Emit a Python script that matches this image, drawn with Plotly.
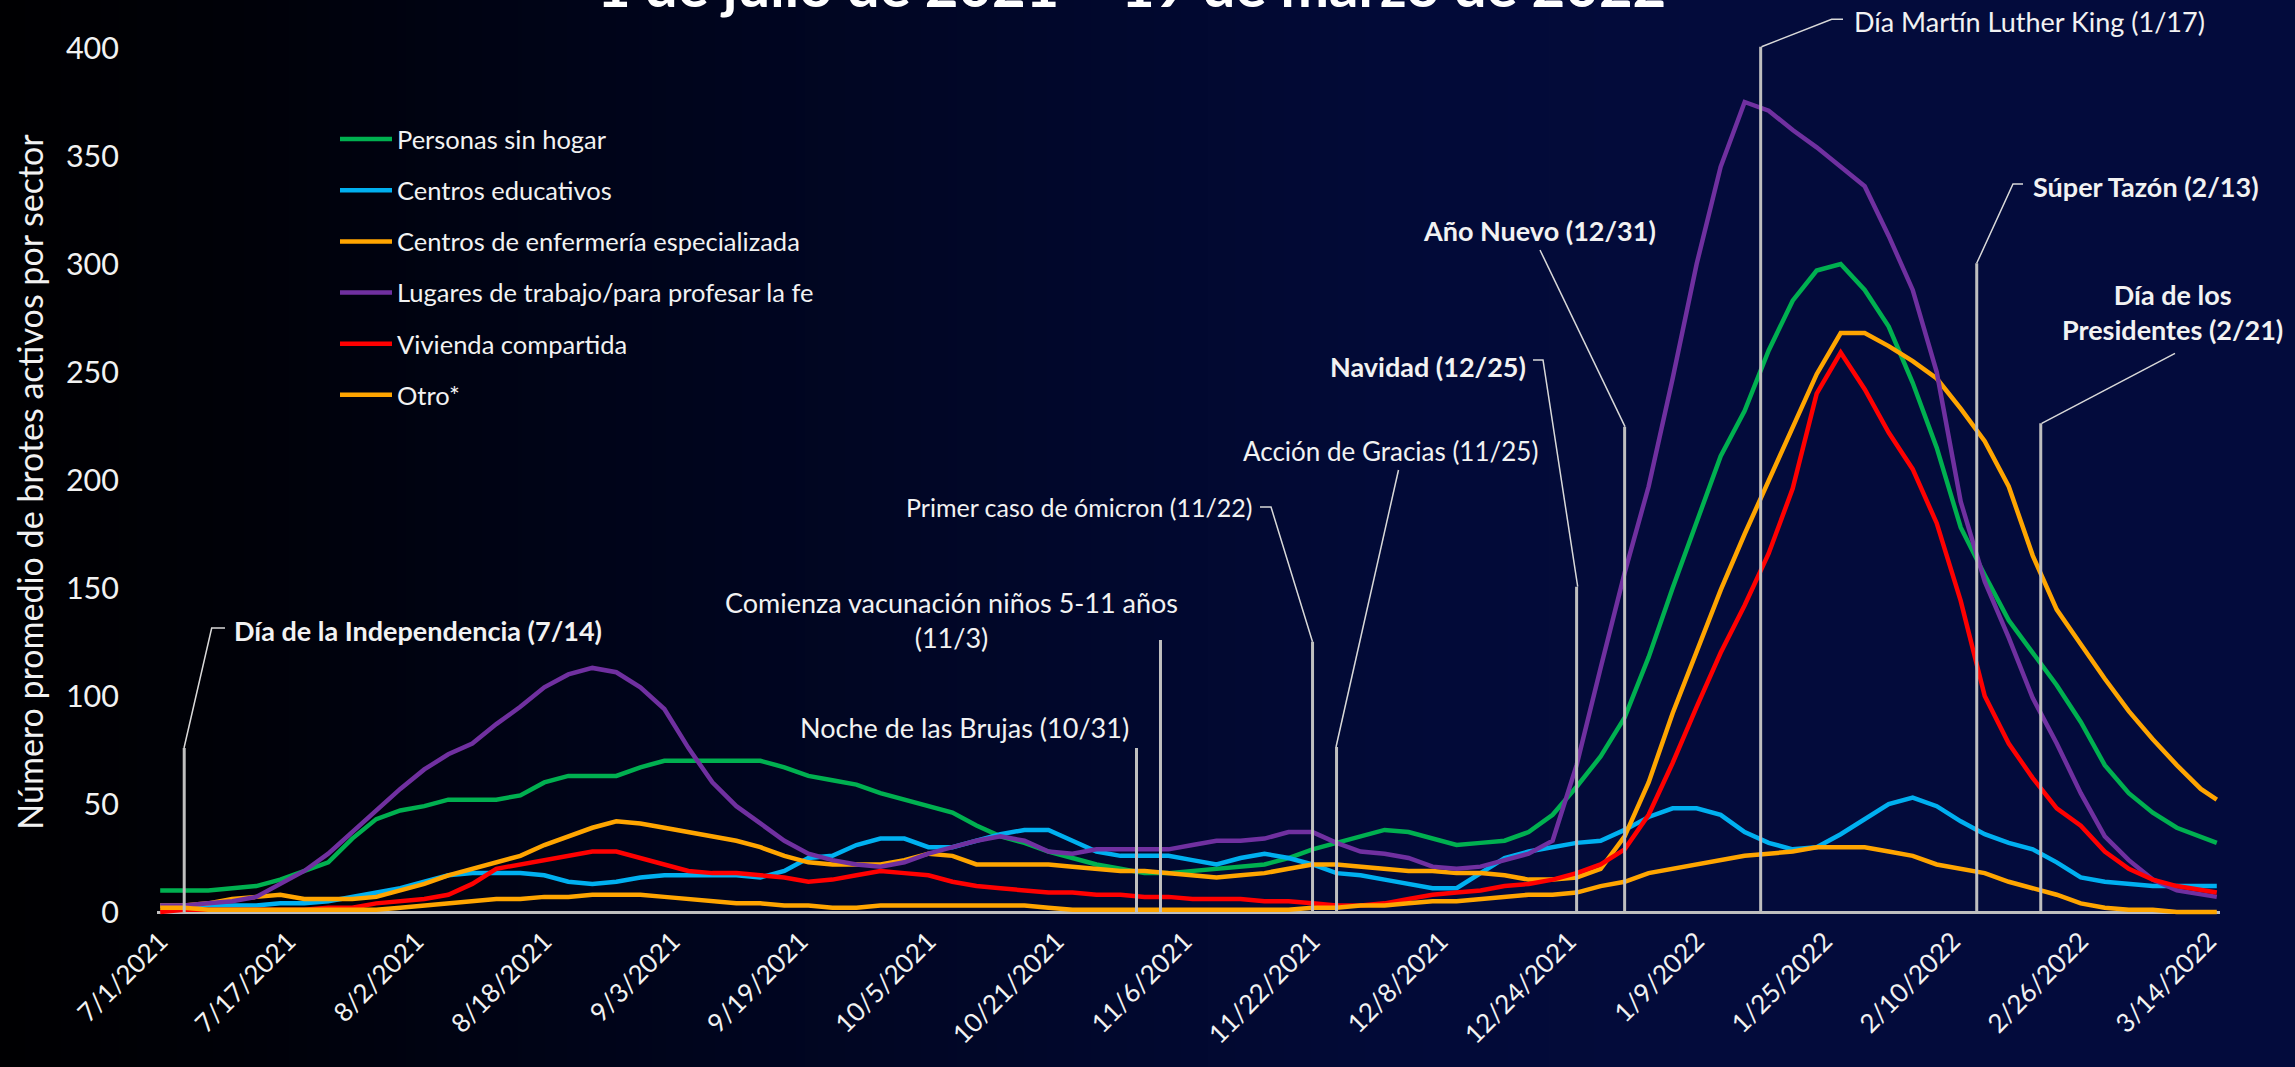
import base64
import struct
import zlib
import plotly.graph_objects as go

# ---------------- data ----------------
dates = ["2021-07-01","2021-07-04","2021-07-07","2021-07-10","2021-07-13","2021-07-16","2021-07-19","2021-07-22","2021-07-25","2021-07-28","2021-07-31",
         "2021-08-03","2021-08-06","2021-08-09","2021-08-12","2021-08-15","2021-08-18","2021-08-21","2021-08-24","2021-08-27","2021-08-30",
         "2021-09-02","2021-09-05","2021-09-08","2021-09-11","2021-09-14","2021-09-17","2021-09-20","2021-09-23","2021-09-26","2021-09-29",
         "2021-10-02","2021-10-05","2021-10-08","2021-10-11","2021-10-14","2021-10-17","2021-10-20","2021-10-23","2021-10-26","2021-10-29",
         "2021-11-01","2021-11-04","2021-11-07","2021-11-10","2021-11-13","2021-11-16","2021-11-19","2021-11-22","2021-11-25","2021-11-28",
         "2021-12-01","2021-12-04","2021-12-07","2021-12-10","2021-12-13","2021-12-16","2021-12-19","2021-12-22","2021-12-25","2021-12-28","2021-12-31",
         "2022-01-03","2022-01-06","2022-01-09","2022-01-12","2022-01-15","2022-01-18","2022-01-21","2022-01-24","2022-01-27","2022-01-30",
         "2022-02-02","2022-02-05","2022-02-08","2022-02-11","2022-02-14","2022-02-17","2022-02-20","2022-02-23","2022-02-26",
         "2022-03-01","2022-03-04","2022-03-07","2022-03-10","2022-03-13","2022-03-15"]

personas_sin_hogar = [10,10,10,11,12,15,19,23,34,43,47,
                      49,52,52,52,54,60,63,63,63,67,
                      70,70,70,70,70,67,63,61,59,55,
                      52,49,46,40,35,32,28,25,22,20,
                      18,18,19,20,21,22,25,29,32,35,
                      38,37,34,31,32,33,37,45,58,72,90,
                      118,150,180,211,232,260,283,297,300,288,
                      271,245,215,178,156,135,120,105,88,
                      68,55,46,39,35,32]

centros_educativos = [3,3,3,3,3,4,4,5,7,9,11,
                      14,17,18,18,18,17,14,13,14,16,
                      17,17,17,17,16,19,25,26,31,34,
                      34,30,30,33,36,38,38,33,28,26,
                      26,26,24,22,25,27,25,22,18,17,
                      15,13,11,11,18,25,28,30,32,33,38,
                      44,48,48,45,37,32,29,30,36,43,
                      50,53,49,42,36,32,29,23,16,
                      14,13,12,12,12,12]

enfermeria = [3,3,4,6,7,8,6,6,6,7,10,
              13,17,20,23,26,31,35,39,42,41,
              39,37,35,33,30,26,23,22,22,22,
              24,27,26,22,22,22,22,21,20,19,
              19,18,17,16,17,18,20,22,22,21,
              20,19,19,18,18,17,15,15,16,20,35,
              60,92,120,149,175,200,224,249,268,268,
              262,255,247,233,218,197,165,140,124,
              108,93,80,68,57,52]

trabajo_fe = [3,3,4,5,7,13,19,27,37,47,57,
              66,73,78,87,95,104,110,113,111,104,
              94,76,60,49,41,33,27,24,22,21,
              23,27,30,33,35,33,28,27,29,29,
              29,29,31,33,33,34,37,37,32,28,
              27,25,21,20,21,24,27,33,68,113,157,
              197,247,300,345,375,371,362,354,345,336,
              313,288,250,190,153,127,99,78,55,
              35,24,15,10,8,7]

vivienda = [0,1,1,1,1,1,1,2,2,4,5,
            6,8,13,20,22,24,26,28,28,25,
            22,19,18,18,17,16,14,15,17,19,
            18,17,14,12,11,10,9,9,8,8,
            7,7,6,6,6,5,5,4,3,3,
            4,6,8,9,10,12,13,15,18,22,29,
            45,69,95,120,142,166,196,240,259,242,
            222,205,180,144,100,78,62,48,40,
            28,20,15,12,10,9]

otro = [2,2,1,1,1,1,1,1,1,1,2,
        3,4,5,6,6,7,7,8,8,8,
        7,6,5,4,4,3,3,2,2,3,
        3,3,3,3,3,3,2,1,1,1,
        1,1,1,1,1,1,1,2,2,3,
        3,4,5,5,6,7,8,8,9,12,14,
        18,20,22,24,26,27,28,30,30,30,
        28,26,22,20,18,14,11,8,4,
        2,1,1,0,0,0]

series_names = ["Personas sin hogar", "Centros educativos", "Centros de enfermería especializada",
                "Lugares de trabajo/para profesar la fe", "Vivienda compartida", "Otro*"]
series_values = [personas_sin_hogar, centros_educativos, enfermeria, trabajo_fe, vivienda, otro]
series_colors = ["#00B050", "#00B0F0", "#FFA500", "#7030A0", "#FF0000", "#FFA500"]

tick_vals = ["2021-07-01","2021-07-17","2021-08-02","2021-08-18","2021-09-03","2021-09-19","2021-10-05","2021-10-21",
             "2021-11-06","2021-11-22","2021-12-08","2021-12-24","2022-01-09","2022-01-25","2022-02-10","2022-02-26","2022-03-14"]
tick_text = ["7/1/2021","7/17/2021","8/2/2021","8/18/2021","9/3/2021","9/19/2021","10/5/2021","10/21/2021",
             "11/6/2021","11/22/2021","12/8/2021","12/24/2021","1/9/2022","1/25/2022","2/10/2022","2/26/2022","3/14/2022"]

event_dates = ["2021-07-04","2021-10-31","2021-11-03","2021-11-22","2021-11-25",
               "2021-12-25","2021-12-31","2022-01-17","2022-02-13","2022-02-21"]
event_labels = ["<b>Día de la Independencia (7/14)</b>",
                "Noche de las Brujas (10/31)",
                "Comienza vacunación niños 5-11 años<br>(11/3)",
                "Primer caso de ómicron (11/22)",
                "Acción de Gracias (11/25)",
                "<b>Navidad (12/25)</b>",
                "<b>Año Nuevo (12/31)</b>",
                "Día Martín Luther King (1/17)",
                "<b>Súper Tazón (2/13)</b>",
                "<b>Día de los<br>Presidentes (2/21)</b>"]

title_text = "<b>1 de julio de 2021 – 19 de marzo de 2022</b>"
y_title = "Número promedio de brotes activos por sector"

# ---------------- layout geometry (pixels) ----------------
W, H = 2295, 1067
ML, MR, MT, MB = 157, 75, 48, 151
PL, PR, PT, PB = ML, W - MR, MT, H - MB
ZERO_PX = 912
YMAX = 400
YMIN = -YMAX * (PB - ZERO_PX) / (ZERO_PX - PT)


def px(x):
    return (x - PL) / (PR - PL)


def py(y):
    return (PB - y) / (PB - PT)


FONT = "Lato, 'Open Sans', sans-serif"
TXT = "#F2F2F2"


def gradient_png(width, stops):
    row = bytearray([0])
    for i in range(width):
        t = i / (width - 1)
        for (p0, c0), (p1, c1) in zip(stops[:-1], stops[1:]):
            if p0 <= t <= p1:
                f = 0 if p1 == p0 else (t - p0) / (p1 - p0)
                row += bytes(int(round(a + (b - a) * f)) for a, b in zip(c0, c1))
                break

    def chunk(tag, data):
        return struct.pack(">I", len(data)) + tag + data + struct.pack(">I", zlib.crc32(tag + data) & 0xffffffff)

    png = (b"\x89PNG\r\n\x1a\n" + chunk(b"IHDR", struct.pack(">IIBBBBB", width, 1, 8, 2, 0, 0, 0))
           + chunk(b"IDAT", zlib.compress(bytes(row))) + chunk(b"IEND", b""))
    return "data:image/png;base64," + base64.b64encode(png).decode()


bg = gradient_png(512, [(0.0, (0, 0, 2)), (0.10, (0, 1, 8)), (0.25, (0, 4, 24)), (0.45, (1, 7, 42)),
                        (0.60, (2, 10, 55)), (0.75, (3, 11, 59)), (1.0, (3, 11, 60))])

fig = go.Figure()
for name, vals, col in zip(series_names, series_values, series_colors):
    fig.add_trace(go.Scatter(x=dates, y=vals, name=name, mode="lines",
                             line=dict(color=col, width=4.5), legendgroup=name))

# event markers: (vertical top px, connector path px, text x px, text y px, xanchor, font size)
event_style = [
    (748, [(184, 748), (211.7, 628), (225, 628)], 232, 630, "left", 27),
    (748, None, 964, 727, "center", 27),
    (640, None, 951, 620, "center", 27),
    (641.7, [(1260, 507), (1271, 507), (1312.5, 641.7)], 1254, 507, "right", 25),
    (747, [(1336, 747), (1398.5, 470)], 1540, 451, "right", 26),
    (586.7, [(1533, 360), (1543, 360), (1577.7, 586.7)], 1528, 366, "right", 27),
    (426.7, [(1540, 250), (1625, 426.7)], 1539, 230, "center", 27),
    (46.7, [(1843, 19.3), (1831.7, 19.3), (1761.5, 46.7)], 1852, 22, "left", 27),
    (263.3, [(2023, 184), (2013, 184), (1976.7, 263.3)], 2031, 186, "left", 27),
    (423.3, [(2175, 353.3), (2041.7, 423.3)], 2172, 312, "center", 27),
]

shapes = []
annotations = []
for d, lab, (vtop, path, tx, ty, xa, fs) in zip(event_dates, event_labels, event_style):
    shapes.append(dict(type="line", xref="x", yref="paper", x0=d, x1=d, y0=py(ZERO_PX), y1=py(vtop),
                       line=dict(color="#BFBFBF", width=3), layer="above"))
    if path:
        p = "M " + " L ".join(f"{px(a):.5f},{py(b):.5f}" for a, b in path)
        shapes.append(dict(type="path", xref="paper", yref="paper", path=p,
                           line=dict(color="#D9D9D9", width=1.5), layer="above"))
    annotations.append(dict(text=lab, xref="paper", yref="paper", x=px(tx), y=py(ty), xanchor=xa,
                            yanchor="middle", showarrow=False, align="center",
                            font=dict(family=FONT, size=fs, color=TXT)))

annotations.append(dict(text=title_text, xref="paper", yref="paper", x=px(1131), y=py(-16),
                        xanchor="center", yanchor="middle", showarrow=False,
                        font=dict(family=FONT, size=58, color="#FFFFFF")))

fig.update_layout(
    width=W, height=H,
    margin=dict(l=ML, r=MR, t=MT, b=MB, autoexpand=False),
    paper_bgcolor="#020830",
    plot_bgcolor="rgba(0,0,0,0)",
    font=dict(family=FONT, color=TXT),
    images=[dict(source=bg, xref="paper", yref="paper", x=-ML / (PR - PL), y=1 + MT / (PB - PT),
                 sizex=W / (PR - PL), sizey=H / (PB - PT), sizing="stretch", layer="below",
                 xanchor="left", yanchor="top")],
    xaxis=dict(type="date", range=["2021-06-30 14:24", "2022-03-15 09:36"], tickvals=tick_vals,
               ticktext=tick_text, tickangle=-45, showgrid=False, zeroline=False, showline=False,
               ticks="", tickfont=dict(family=FONT, size=26, color=TXT), ticklabelstandoff=4),
    yaxis=dict(range=[YMIN, YMAX], tickvals=[0, 50, 100, 150, 200, 250, 300, 350, 400], showgrid=False,
               zeroline=True, zerolinecolor="#BFBFBF", zerolinewidth=2.5, showline=False, ticks="",
               tickfont=dict(family=FONT, size=30.5, color=TXT), ticklabelstandoff=37,
               title=dict(text=y_title, font=dict(family=FONT, size=34, color=TXT), standoff=12)),
    legend=dict(x=px(335), y=py(116), xanchor="left", yanchor="top", bgcolor="rgba(0,0,0,0)",
                font=dict(family=FONT, size=25.5, color=TXT), tracegroupgap=15, itemwidth=52),
    shapes=shapes,
    annotations=annotations,
    showlegend=True,
)

fig.write_html("out.html", config={"displayModeBar": False},
               post_script="document.body.style.margin='0px';document.body.style.padding='0px';"
                           "document.body.style.overflow='hidden';")
